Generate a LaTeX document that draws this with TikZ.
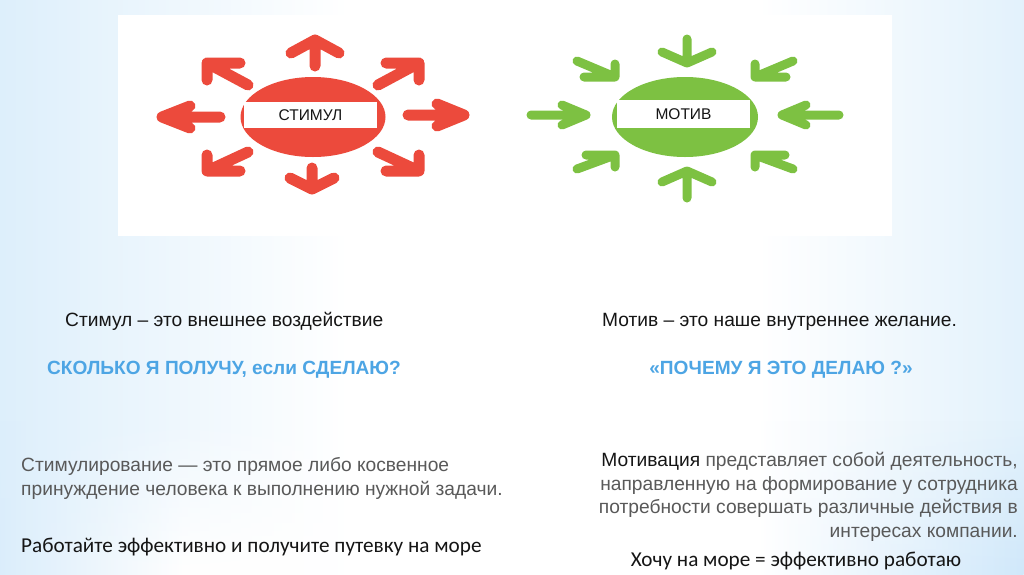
\documentclass[tikz,border=0pt]{standalone}
\usepackage{fontspec}
\usetikzlibrary{shapes.geometric,fadings}
\setmainfont{Liberation Sans}
\newfontfamily\calib{Carlito}
\definecolor{bgblue}{HTML}{A6D3F6}
\definecolor{bglight}{HTML}{D3EAFA}
\definecolor{bgmid}{HTML}{BEDFF8}
\definecolor{arrred}{HTML}{EC4A3C}
\definecolor{arrgreen}{HTML}{7DC142}
\definecolor{txtblue}{HTML}{4DA5E4}
\definecolor{txtgray}{HTML}{595959}
\definecolor{txtblack}{HTML}{151515}
\pgfdeclarehorizontalshading{slidebg}{100bp}{color(0bp)=(bgblue); color(20bp)=(bglight); color(42bp)=(white); color(62bp)=(white); color(82bp)=(bglight); color(100bp)=(bgblue)}
\pgfdeclarehorizontalshading{slidelow}{100bp}{color(0bp)=(bgblue); color(18bp)=(bgmid); color(34bp)=(white); color(62bp)=(white); color(80bp)=(bgmid); color(100bp)=(bgblue)}
\newcommand\arrowshape[5]{\draw[#1] #2 -- #3 #4 -- #3 -- #5;}
\begin{document}
\begin{tikzpicture}[x=1pt,y=-1pt,
  redarr/.style={draw=arrred, line width=11pt, line cap=round, line join=round},
  greenarr/.style={draw=arrgreen, line width=9pt, line cap=round, line join=round},
  maintext/.style={font=\fontsize{19.2}{23.5}\selectfont, text=txtblack, inner sep=0pt},
  bluetext/.style={font=\fontsize{19.1}{22}\selectfont\bfseries, text=txtblue, inner sep=0pt},
  graytext/.style={font=\fontsize{19.2}{23.5}\selectfont, text=txtgray, inner sep=0pt},
  caltext/.style={font=\calib\fontsize{21.2}{24}\selectfont, text=txtblack, inner sep=0pt},
  label box/.style={fill=white, inner sep=0pt, font=\fontsize{15.5}{17}\selectfont, text=txtblack}]
\useasboundingbox (0,0) rectangle (1024,574);
\shade[shading=slidebg] (0,0) rectangle (1024,574);
\shade[shading=slidelow, path fading=north] (0,420) rectangle (1024,574);
% panel
\node (panel) [fill=white, inner sep=0pt, minimum width=774pt, minimum height=221pt, anchor=north west] at (118,15) {};
% red ellipse
\node (stim) [ellipse, fill=arrred, inner sep=0pt, minimum width=145pt, minimum height=80pt] at (313,117) {};
\node (stimbox) [label box, minimum width=133pt, minimum height=26pt] at (310.5,115) {СТИМУЛ};
% red arrows (outward)
\arrowshape{redarr}{(315,66)}{(315,40)}{(291,53)}{(339,53)}
\arrowshape{redarr}{(312,168)}{(312,189)}{(290,178)}{(334,178)}
\arrowshape{redarr}{(220,117)}{(162,117)}{(190,106)}{(190,128)}
\arrowshape{redarr}{(408,115)}{(464,115)}{(437,104)}{(437,126)}
\arrowshape{redarr}{(248,85)}{(207,63)}{(240,63)}{(207,80)}
\arrowshape{redarr}{(378,85)}{(419,63)}{(386,63)}{(419,80)}
\arrowshape{redarr}{(248,152)}{(207,171)}{(207,155)}{(240,171)}
\arrowshape{redarr}{(378,152)}{(419,171)}{(419,155)}{(386,171)}
% green ellipse
\node (mot) [ellipse, fill=arrgreen, inner sep=0pt, minimum width=146pt, minimum height=80pt] at (685,117) {};
\node (motbox) [label box, minimum width=133pt, minimum height=28pt] at (683.5,114) {МОТИВ};
% green arrows (inward)
\arrowshape{greenarr}{(531,115)}{(586,115)}{(562,105)}{(562,125)}
\arrowshape{greenarr}{(839,115)}{(782,115)}{(806,105)}{(806,125)}
\arrowshape{greenarr}{(687,39)}{(687,63)}{(662,52)}{(712,52)}
\arrowshape{greenarr}{(687,198)}{(687,171)}{(662,182)}{(712,182)}
\arrowshape{greenarr}{(577,61)}{(615,77)}{(615,64)}{(584,77)}
\arrowshape{greenarr}{(793,61)}{(755,77)}{(755,64)}{(786,77)}
\arrowshape{greenarr}{(577,169)}{(615,155)}{(615,167)}{(586,155)}
\arrowshape{greenarr}{(793,169)}{(755,155)}{(755,167)}{(785,155)}
% texts
\node (t1) [maintext, anchor=base west] at (65,326) {Стимул – это внешнее воздействие};
\node (t2) [bluetext, anchor=base west] at (47,374) {СКОЛЬКО Я ПОЛУЧУ, если СДЕЛАЮ?};
\node (t3) [maintext, anchor=base west] at (602,326) {Мотив – это наше внутреннее желание.};
\node (t4) [bluetext, anchor=base] at (781,374) {«ПОЧЕМУ Я ЭТО ДЕЛАЮ ?»};
\node (t5) [graytext, anchor=base west, align=left] at (21,495) {Стимулирование — это прямое либо косвенное\\принуждение человека к выполнению нужной задачи.};
\node (t6) [caltext, anchor=base west] at (21,552) {Работайте эффективно и получите путевку на море};
\node (t7) [graytext, anchor=base east, align=right] at (1018,537) {\textcolor{txtblack}{Мотивация} представляет собой деятельность,\\направленную на формирование у сотрудника\\потребности совершать различные действия в\\интересах компании.};
\node (t8) [caltext, anchor=base] at (796,566) {Хочу на море = эффективно работаю};
\end{tikzpicture}
\end{document}
